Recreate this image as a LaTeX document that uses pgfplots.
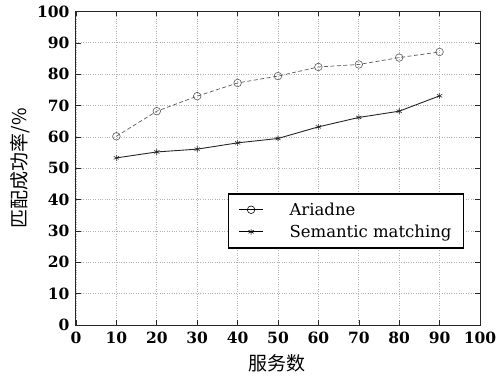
\documentclass[border=0pt]{standalone}
\usepackage{fontspec}
\setmainfont{DejaVu Serif}
\newfontfamily\cjk{Noto Sans CJK SC}
\usepackage{pgfplots}
\pgfplotsset{compat=1.18}
\begin{document}
\begin{tikzpicture}
\begin{axis}[
  name=ax,
  scale only axis,
  width=404bp, height=313.5bp,
  xmin=0, xmax=100, ymin=0, ymax=100,
  xtick={0,10,...,100}, ytick={0,10,...,100},
  tick align=inside,
  major tick length=5bp,
  axis line style={line width=1bp, black!85},
  tick style={black!85, line width=0.6bp},
  grid=major,
  major grid style={dotted, gray!60, line width=0.7bp},
  /pgf/number format/assume math mode=true,
  ticklabel style={font=\fontsize{15.5bp}{18bp}\selectfont\bfseries},
  yticklabel style={xshift=-3bp},
  xticklabel style={yshift=-3bp},
  every axis y label/.style={at={(axis description cs:-0.139,0.5)}, rotate=90, anchor=center},
  every axis x label/.style={at={(axis description cs:0.497,-0.121)}, anchor=center},
  ylabel={\cjk\fontsize{19bp}{22bp}\selectfont 匹配成功率/\%},
  xlabel={\cjk\fontsize{19bp}{22bp}\selectfont 服务数},
  legend style={at={(axis description cs:0.376,0.421)}, anchor=north west,
    draw=black, line width=1.5bp, fill=white,
    font=\fontsize{16.5bp}{19bp}\selectfont,
    inner xsep=10bp, inner ysep=7bp, row sep=4bp,
    /tikz/every odd column/.append style={column sep=24bp}},
  legend cell align=left,
  legend image code/.code={\draw[mark repeat=2,mark phase=2,#1,solid,black] plot coordinates {(0bp,0bp) (12bp,0bp) (24bp,0bp)};},
]
\addplot[black!65, line width=0.7bp, dash pattern=on 4bp off 2.5bp, mark=o, mark size=3.8bp, mark options={solid, line width=0.6bp}]
  coordinates {(10,60.2) (20,68.2) (30,73) (40,77.2) (50,79.4) (60,82.3) (70,83.1) (80,85.3) (90,87.1)};
\addlegendentry{Ariadne}
\addplot[black!85, line width=0.9bp, mark=asterisk, mark size=3bp, mark options={line width=0.6bp}]
  coordinates {(10,53.3) (20,55.2) (30,56.1) (40,58.1) (50,59.5) (60,63.2) (70,66.2) (80,68.2) (90,73.1)};
\addlegendentry{Semantic matching}
\end{axis}
\pgfresetboundingbox
\path ([shift={(-76bp,-53bp)}]ax.south west) rectangle ([shift={(17bp,11.5bp)}]ax.north east);
\end{tikzpicture}
\end{document}
